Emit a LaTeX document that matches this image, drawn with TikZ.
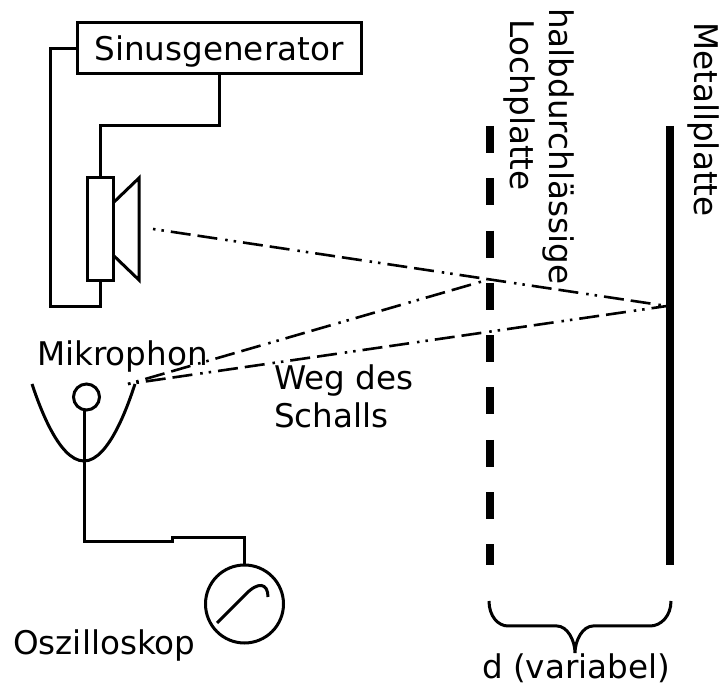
\documentclass[tikz,border=0pt]{standalone}
\usepackage{fontspec}
\setmainfont{DejaVu Sans}
\tikzset{
    wire/.style={line width=3pt, line join=miter},
    beam/.style={line width=2.6pt, dash pattern=on 2.5pt off 6pt on 2.5pt off 7pt on 20pt off 7pt on 20pt off 8pt},
    plate/.style={line width=8pt},
    label/.style={inner sep=0pt, font=\fontsize{32.6}{37.5}\selectfont},
    device/.style={draw, wire, inner sep=0pt, outer sep=0pt}
}

\begin{document}
\begin{tikzpicture}[x=1pt, y=-1pt]
    \useasboundingbox (0, 0) rectangle (721, 684);
\node[device, label, text depth=0pt, minimum width=284pt, minimum height=51pt] (sinusgen) at (219, 48.5) {Sinusgenerator};
\node[device, minimum width=26pt, minimum height=103pt] (coil) at (100, 229) {};
\node[device, circle, minimum size=26pt] (mic) at (86.5, 397) {};
\node[device, circle, minimum size=78pt] (scope) at (244.5, 604) {};
\coordinate (leftbend) at (50, 307);
\coordinate (topbend) at (219, 126);
\coordinate (wirestep) at (172, 542);
\coordinate (source) at (153, 229);
\coordinate (reflect) at (667, 306);
\coordinate (hole) at (487, 280);
\coordinate (focus) at (128, 384);
\coordinate (holetop) at (490, 126);
\coordinate (holebottom) at (490, 565);
\coordinate (metaltop) at (670, 126);
\coordinate (metalbottom) at (670, 565);
\draw[wire] (sinusgen.west) -| (leftbend) -| (coil.south);
\draw[wire] (sinusgen.south) |- (topbend) -| (coil.north);
\draw[wire] (mic.-100) |- (wirestep) -- ++(0, -4) -| (scope.north);
\draw[wire] (113, 203) -- (139, 178) -- (139, 280) -- (113, 255);
\draw[wire] (32, 384) parabola bend (84, 461) (135, 384);
\draw[wire] (217, 623) -- (245, 595) .. controls (258, 581) and (268, 583) .. (268, 597);
\draw[beam] (source) -- (reflect);
\draw[beam] (focus) -- (reflect);
\draw[beam] (focus) -- (hole);
\draw[plate, dash pattern=on 27pt off 25.3pt] (holetop) -- (holebottom);
\draw[plate] (metaltop) -- (metalbottom);
\draw[wire] (489, 601) .. controls (489, 616) and (498, 626) .. (508, 626) -- (557, 626)
    .. controls (567, 626) and (575, 640) .. (575, 653)
    .. controls (575, 640) and (583, 626) .. (593, 626) -- (650, 626)
    .. controls (661, 626) and (671, 616) .. (671, 601);
\node[label, anchor=base west] (miclabel) at (37, 366) {Mikrophon};
\node[label, anchor=north west, align=left] (waylabel) at (274, 365) {Weg des\\Schalls};
\node[label, anchor=base west] (scopelabel) at (13, 655) {Oszilloskop};
\node[label, anchor=base west] (dlabel) at (482, 678) {d (variabel)};
\node[label, anchor=base west, rotate=-90] (halblabel) at (549, 8) {halbdurchlässige};
\node[label, anchor=base west, rotate=-90] (lochlabel) at (510, 19) {Lochplatte};
\node[label, anchor=base west, rotate=-90] (metallabel) at (694, 22) {Metallplatte};
    \end{tikzpicture}
\end{document}
